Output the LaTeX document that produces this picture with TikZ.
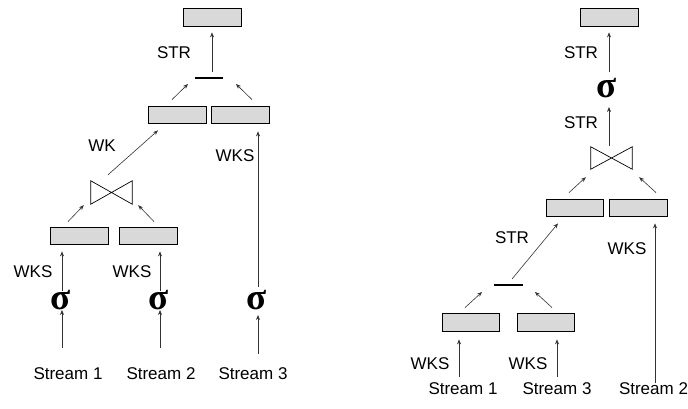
\documentclass[tikz,border=0pt]{standalone}
\usepackage{fontspec}
\setmainfont{Liberation Sans}
\newfontfamily\sigfont{Liberation Serif}
\usetikzlibrary{arrows.meta,calc}
\tikzset{
 opbox/.style={draw=black, fill=gray!30, line width=0.8pt, minimum width=58pt, minimum height=17pt, inner sep=0pt},
 barnode/.style={fill=black, minimum width=28pt, minimum height=2pt, inner sep=0pt},
 tiebox/.style={minimum width=41pt, minimum height=23pt, inner sep=0pt},
 tieline/.style={line width=0.7pt, line join=miter},
 lbl/.style={font=\fontsize{17}{20}\selectfont, inner sep=0pt},
 sig/.style={font=\sigfont\bfseries\fontsize{37}{37}\selectfont, inner sep=0pt},
 arr/.style={-{Stealth[length=5pt,width=4pt]}, line width=0.6pt, draw=black!80}
}
\begin{document}
\begin{tikzpicture}[x=1pt,y=-1pt]
\path[use as bounding box] (0,0) rectangle (688,409);
% ---------- left plan ----------
\node[opbox, minimum height=18pt] (T1) at (212,17) {};
\node[barnode] (bar1) at (209,78) {};
\node[opbox] (M1a) at (177,115) {};
\node[opbox] (M1b) at (240,115) {};
\node[tiebox] (J1) at (111.5,192.5) {};
\draw[tieline] (J1.south west) -- (J1.north west) -- (J1.south east) -- (J1.north east) -- cycle;
\node[opbox] (L1a) at (79,235.5) {};
\node[opbox] (L1b) at (148,235.5) {};
\node[sig] (S1) at (61,300) {σ};
\node[sig] (S2) at (159,300) {σ};
\node[sig] (S3) at (257,300) {σ};
\node[lbl] (St1) at (68,374) {Stream 1};
\node[lbl] (St2) at (161,374) {Stream 2};
\node[lbl] (St3) at (253,374) {Stream 3};
\node[lbl] (lstr1) at (174,53) {STR};
\node[lbl] (lwk) at (102,146) {WK};
\node[lbl] (lwks3) at (235,156) {WKS};
\node[lbl] (lwks1) at (33,272) {WKS};
\node[lbl] (lwks2) at (132,272) {WKS};

\draw[arr] ($(bar1)+(3,-6)$) -- ($(T1.south)+(0,6)$);
\draw[arr] ($(M1a.north)+(-5,-6.5)$) -- ($(bar1)+(-21,6)$);
\draw[arr] ($(M1b.north)+(12,-6.5)$) -- ($(bar1)+(27,6)$);
\draw[arr] ($(J1.north)+(-3.5,-6)$) -- ($(M1a.south)+(-19,6.5)$);
\draw[arr] ($(S3)+(1,-13)$) -- ($(M1b.south)+(18,7.5)$);
\draw[arr] ($(L1a.north)+(-11,-5)$) -- ($(J1.south west)+(-7,1)$);
\draw[arr] ($(L1b.north)+(6,-5)$) -- ($(J1.south east)+(6,1)$);
\draw[arr] ($(S1)+(1,-9)$) -- ($(L1a.south)+(-17,7)$);
\draw[arr] ($(S2)+(1,-9)$) -- ($(L1b.south)+(12,7)$);
\draw[arr] ($(St1)+(-6,-26)$) -- ($(S1)+(1,10)$);
\draw[arr] ($(St2)+(-1,-26)$) -- ($(S2)+(1,10)$);
\draw[arr] ($(St3)+(5,-20)$) -- ($(S3)+(1,15)$);

% ---------- right plan ----------
\node[opbox, minimum height=18pt] (T2) at (609,17) {};
\node[sig] (SR) at (607,88) {σ};
\node[tiebox, minimum height=22pt] (J2) at (611.5,158) {};
\draw[tieline] (J2.south west) -- (J2.north west) -- (J2.south east) -- (J2.north east) -- cycle;
\node[opbox, minimum width=57pt] (M2a) at (574.5,207.5) {};
\node[opbox] (M2b) at (638,207.5) {};
\node[barnode, minimum width=29pt] (bar2) at (508.5,285) {};
\node[opbox, minimum width=57pt, minimum height=18pt] (L2a) at (470.5,322) {};
\node[opbox, minimum width=57pt, minimum height=18pt] (L2b) at (545.5,322) {};
\node[lbl] (St1R) at (463,389) {Stream 1};
\node[lbl] (St3R) at (557,389) {Stream 3};
\node[lbl] (St2R) at (653.5,389) {Stream 2};
\node[lbl] (rstr1) at (581,53) {STR};
\node[lbl] (rstr2) at (581,123) {STR};
\node[lbl] (rstr3) at (512,238) {STR};
\node[lbl] (rwks3) at (627,249) {WKS};
\node[lbl] (rwks1) at (430,364) {WKS};
\node[lbl] (rwks2) at (528,364) {WKS};

\draw[arr] ($(SR)+(2,-16)$) -- ($(T2.south)+(0,6)$);
\draw[arr] ($(J2.north)+(-2.5,-1)$) -- ($(SR)+(2,19)$);
\draw[arr] ($(M2a.north)+(-5.5,-6)$) -- ($(J2.south west)+(-5,8)$);
\draw[arr] ($(M2b.north)+(18,-6)$) -- ($(J2.south east)+(7,8)$);
\draw[arr] ($(bar2)+(3.5,-6)$) -- ($(M2a.south)+(-16.5,7)$);
\draw[arr] ($(St2R)+(1.5,-6)$) -- ($(M2b.south)+(17,7)$);
\draw[arr] ($(L2a.north)+(-5.5,-5)$) -- ($(bar2)+(-26.5,7)$);
\draw[arr] ($(L2b.north)+(6.5,-5)$) -- ($(bar2)+(26.5,7)$);
\draw[arr] ($(St1R)+(-4,-12)$) -- ($(L2a.south)+(-11.5,8)$);
\draw[arr] ($(St3R)+(0,-12)$) -- ($(L2b.south)+(11.5,8)$);
\end{tikzpicture}
\end{document}
